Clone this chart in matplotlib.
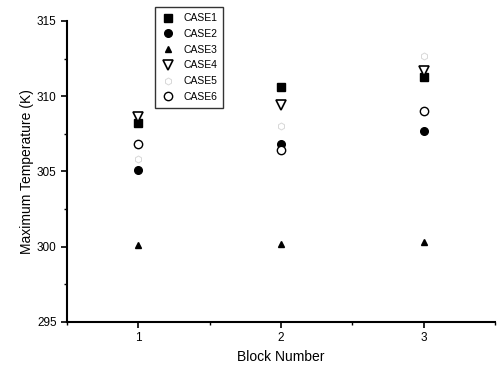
import matplotlib
matplotlib.use('Agg')
import matplotlib.pyplot as plt
from matplotlib.ticker import MultipleLocator

plt.rcParams['font.family'] = ['Liberation Sans', 'DejaVu Sans']

# block numbers and max temperature (K) for each case
blocks = [1, 2, 3]
case1 = [308.2, 310.6, 311.25]
case2 = [305.1, 306.85, 307.7]
case3 = [300.1, 300.15, 300.3]
case4 = [308.6, 309.4, 311.7]
case5 = [305.8, 308.0, 312.7]
case6 = [306.8, 306.45, 309.0]
names = ['CASE1', 'CASE2', 'CASE3', 'CASE4', 'CASE5', 'CASE6']

fig = plt.figure(figsize=(4.97, 3.68), dpi=100)
ax = fig.add_axes([0.135, 0.125, 0.861, 0.818])

ax.plot(blocks, case1, ls='none', marker='s', ms=5.5, color='black', label=names[0])
ax.plot(blocks, case2, ls='none', marker='o', ms=5.5, color='black', label=names[1])
ax.plot(blocks, case3, ls='none', marker='^', ms=4.5, color='black', label=names[2])
ax.plot(blocks, case4, ls='none', marker='v', ms=6.5, mfc='white', mec='black', mew=1.2, label=names[3])
ax.plot(blocks, case5, ls='none', marker='h', ms=5, mfc='none', mec='#d8d8d8', mew=0.7, label=names[4])
ax.plot(blocks, case6, ls='none', marker='o', ms=6, mfc='white', mec='black', mew=1.0, label=names[5])

ax.set_xlim(0.5, 3.5)
ax.set_ylim(295, 315)
ax.xaxis.set_major_locator(MultipleLocator(1))
ax.xaxis.set_minor_locator(MultipleLocator(0.5))
ax.yaxis.set_major_locator(MultipleLocator(5))
ax.yaxis.set_minor_locator(MultipleLocator(2.5))
ax.set_xticks([1, 2, 3])

for s in ['top', 'right']:
    ax.spines[s].set_visible(False)
for s in ['left', 'bottom']:
    ax.spines[s].set_linewidth(1.5)

ax.tick_params(which='major', direction='out', length=4, width=1.2, labelsize=8.5)
ax.tick_params(which='minor', direction='out', length=2.5, width=1.0)

ax.set_xlabel('Block Number', fontsize=10, labelpad=4)
ax.set_ylabel('Maximum Temperature (K)', fontsize=10, labelpad=2)

leg = fig.legend(loc='upper left', bbox_to_anchor=(155 / 497, 1 - 7 / 368),
                 fontsize=7.5, frameon=True, fancybox=False, handlelength=1.2,
                 handletextpad=0.9, labelspacing=0.55, borderpad=0.6,
                 borderaxespad=0)
leg.get_frame().set_edgecolor('black')
leg.get_frame().set_linewidth(1.0)

fig.savefig('out.png', dpi=100)
